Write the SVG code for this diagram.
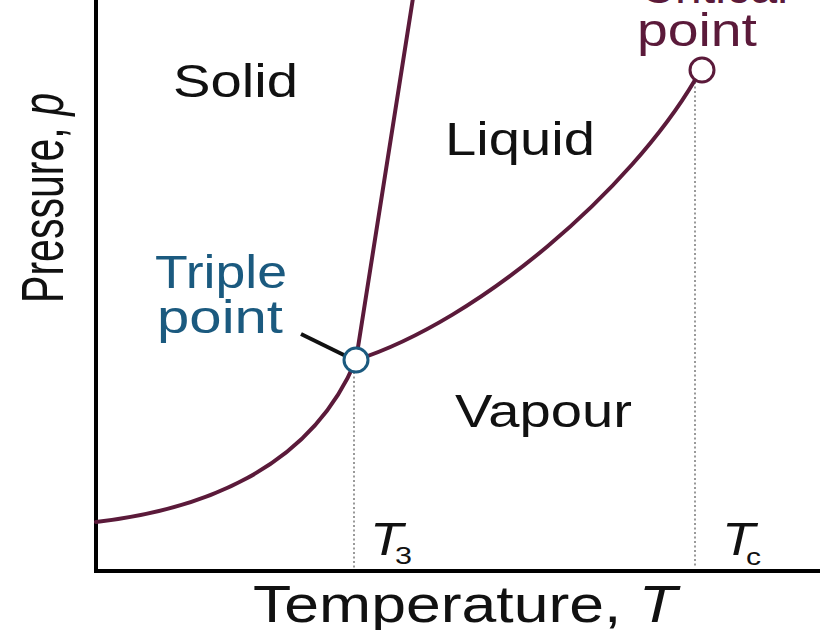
<svg xmlns="http://www.w3.org/2000/svg" width="837" height="630" viewBox="0 0 837 630">
<style>
text{font-family:"Liberation Sans",Arial,sans-serif;}
.lbl{fill:#111;font-size:47px;}
.curve{fill:none;stroke:#5b1a3a;stroke-width:4;stroke-linecap:round;}
.dot{stroke:#999;stroke-width:2;stroke-dasharray:2 2.5;fill:none;}
.axis{stroke:#000;stroke-width:4;fill:none;}
.blue{fill:#1b5a7f;font-size:46px;}
.maroon{fill:#5b1a3a;font-size:46px;}
.sym{fill:#111;font-size:46px;font-style:italic;}
.sub{fill:#111;font-size:24px;}
</style>
<rect width="837" height="630" fill="#fff"/>
<g id="axes">
<path class="axis" d="M96,0 V571 H820"/>
<text style="fill:#111;font-size:60px" transform="translate(63,303) rotate(-90)" textLength="210" lengthAdjust="spacingAndGlyphs">Pressure, <tspan font-style="italic">p</tspan></text>
<text style="fill:#111;font-size:52px" x="253" y="622" textLength="424" lengthAdjust="spacingAndGlyphs">Temperature, <tspan font-style="italic">T</tspan></text>
</g>
<g id="guides">
<line class="dot" x1="354" y1="372" x2="354" y2="568"/>
<line class="dot" x1="695" y1="82" x2="695" y2="568"/>
<text class="sym" x="370" y="555" textLength="33" lengthAdjust="spacingAndGlyphs">T</text>
<text class="sub" x="395" y="564" textLength="17" lengthAdjust="spacingAndGlyphs">3</text>
<text class="sym" x="722" y="555" textLength="33" lengthAdjust="spacingAndGlyphs">T</text>
<text class="sub" x="746" y="565" textLength="15" lengthAdjust="spacingAndGlyphs">c</text>
</g>
<g id="connectors">
<path class="curve" d="M96,522 C200,510 310,470 356,360"/>
<path class="curve" d="M356,360 L413,-2"/>
<path class="curve" d="M356,360 C480,320 630,190 695,80"/>
<line x1="301" y1="334" x2="352" y2="359" stroke="#111" stroke-width="4"/>
</g>
<g id="regions">
<text class="lbl" x="173" y="97" textLength="125" lengthAdjust="spacingAndGlyphs">Solid</text>
<text class="lbl" x="445" y="155" textLength="150" lengthAdjust="spacingAndGlyphs">Liquid</text>
<text class="lbl" x="455" y="427" textLength="177" lengthAdjust="spacingAndGlyphs">Vapour</text>
</g>
<g id="triple-point">
<circle cx="356" cy="360" r="12" fill="#fff" stroke="#1b5a7f" stroke-width="3"/>
<text class="blue" x="155" y="288" textLength="132" lengthAdjust="spacingAndGlyphs">Triple</text>
<text class="blue" x="157" y="333" textLength="126" lengthAdjust="spacingAndGlyphs">point</text>
</g>
<g id="critical-point">
<circle cx="702" cy="70" r="12" fill="#fff" stroke="#5b1a3a" stroke-width="3"/>
<text class="maroon" x="640" y="3" textLength="148" lengthAdjust="spacingAndGlyphs">Critical</text>
<text class="maroon" x="637" y="46" textLength="120" lengthAdjust="spacingAndGlyphs">point</text>
</g>
</svg>
